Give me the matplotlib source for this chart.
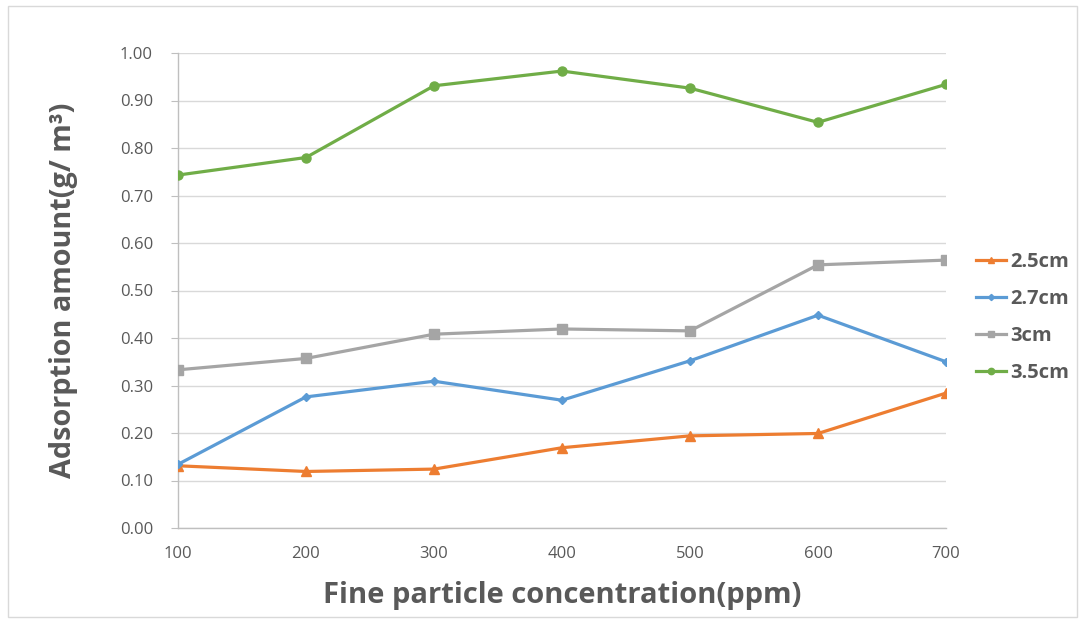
import matplotlib
matplotlib.use("Agg")
import matplotlib.pyplot as plt
from matplotlib.patches import Rectangle

# Data
concentration = [100, 200, 300, 400, 500, 600, 700]
series_labels = ["2.5cm", "2.7cm", "3cm", "3.5cm"]
adsorption_25 = [0.131, 0.119, 0.124, 0.169, 0.194, 0.199, 0.284]
adsorption_27 = [0.134, 0.276, 0.309, 0.269, 0.352, 0.448, 0.350]
adsorption_30 = [0.333, 0.357, 0.408, 0.419, 0.415, 0.554, 0.564]
adsorption_35 = [0.743, 0.780, 0.931, 0.962, 0.926, 0.854, 0.934]
y_ticks = [0.0, 0.1, 0.2, 0.3, 0.4, 0.5, 0.6, 0.7, 0.8, 0.9, 1.0]

colors = ["#ED7D31", "#5B9BD5", "#A5A5A5", "#70AD47"]
markers = ["^", "D", "s", "o"]
msizes = [6.5, 4.5, 6.5, 6.5]
text_color = "#595959"

plt.rcParams["font.family"] = ["Open Sans", "DejaVu Sans"]

W, H = 1081, 622
fig = plt.figure(figsize=(W / 100, H / 100), dpi=100)
ax = fig.add_axes([178 / W, 1 - 528 / H, (946 - 178) / W, (528 - 53) / H])

series = [adsorption_25, adsorption_27, adsorption_30, adsorption_35]
handles = []
for vals, c, m, ms, lab in zip(series, colors, markers, msizes, series_labels):
    h, = ax.plot(concentration, vals, color=c, lw=2.3, marker=m, ms=ms,
                 markeredgecolor=c, label=lab, zorder=3)
    handles.append(h)

ax.set_xlim(100, 700)
ax.set_ylim(0, 1.0)
ax.set_xticks(concentration)
ax.set_yticks(y_ticks)
ax.set_yticklabels([f"{v:.2f}" for v in y_ticks])
ax.grid(axis="y", color="#D9D9D9", lw=1)
ax.set_axisbelow(True)

for s in ["top", "right"]:
    ax.spines[s].set_visible(False)
ax.spines["left"].set_color("#BFBFBF")
ax.spines["bottom"].set_color("#BFBFBF")
ax.spines["left"].set_linewidth(1)
ax.spines["bottom"].set_linewidth(1)
ax.tick_params(axis="y", direction="out", length=5, color="#BFBFBF",
               labelsize=12, labelcolor=text_color, pad=13)
ax.tick_params(axis="x", length=0, labelsize=12, labelcolor=text_color, pad=13)

ax.set_xlabel("Fine particle concentration(ppm)", fontsize=21, fontweight="bold",
              color=text_color, labelpad=14)
ax.set_ylabel("Adsorption amount(g/ m\u00b3)", fontsize=20.8, fontweight="bold",
              color=text_color, labelpad=30)

leg = fig.legend(handles=handles, labels=series_labels, loc="upper left",
                 bbox_to_anchor=(958 / W, 1 - 234 / H), frameon=False,
                 handlelength=1.5, handletextpad=0.2, labelspacing=0.85,
                 prop={"size": 14.5, "weight": "bold"}, markerscale=0.7)
for t in leg.get_texts():
    t.set_color(text_color)

# Outer chart border
fig.patches.append(Rectangle((8 / W, 1 - 617 / H), (1077 - 8) / W, (617 - 6) / H,
                             transform=fig.transFigure, fill=False,
                             edgecolor="#D9D9D9", lw=1))

fig.savefig("out.png", dpi=100)
